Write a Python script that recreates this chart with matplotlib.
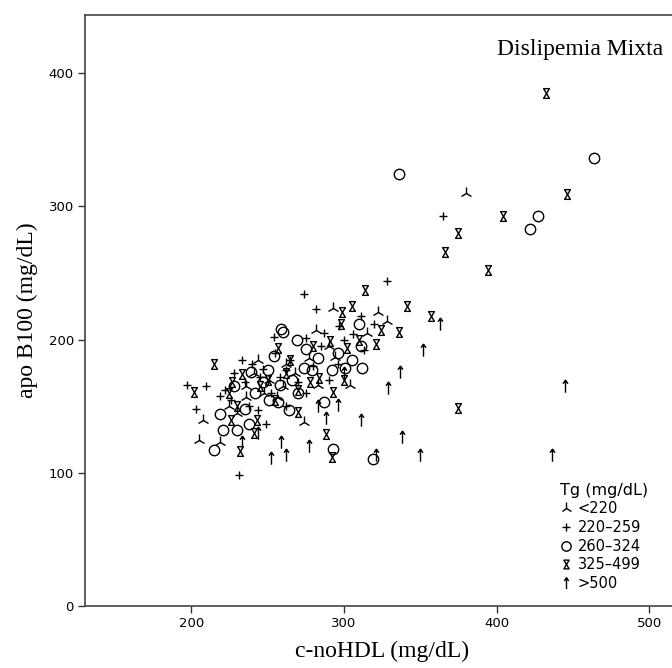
import numpy as np
import matplotlib.pyplot as plt
from matplotlib.path import Path

# c-noHDL (x) vs apo B100 (y), grouped by triglycerides (mg/dL)
tg_lt220_x = [380, 282, 322, 293, 328, 274, 205, 219, 208, 244, 236, 236, 256, 294,
              304, 262, 251, 268, 283, 225, 248, 290, 315, 230, 260, 277, 241]
tg_lt220_y = [310, 207, 221, 224, 214, 138, 125, 123, 140, 185, 165, 157, 157, 187,
              166, 182, 170, 175, 166, 150, 160, 195, 205, 145, 165, 186, 175]

tg_220_259_x = [365, 328, 274, 282, 297, 275, 254, 233, 240, 197, 210, 203, 219, 311,
                231, 249, 244, 262, 245, 255, 265, 280, 290, 235, 228, 252, 270, 300,
                313, 285, 247, 222, 258, 306, 320, 226, 238, 275, 262, 296, 287]
tg_220_259_y = [293, 244, 234, 223, 210, 201, 202, 185, 182, 166, 165, 148, 158, 218,
                98, 137, 147, 177, 172, 190, 185, 180, 170, 168, 175, 160, 168, 200,
                192, 195, 178, 162, 172, 204, 212, 155, 150, 160, 150, 182, 205]

tg_260_324_x = [336, 464, 427, 422, 259, 269, 275, 310, 311, 312, 301, 292, 279, 274,
                254, 250, 251, 264, 257, 287, 239, 238, 230, 221, 219, 215, 293, 319,
                247, 260, 283, 266, 258, 270, 242, 228, 235, 296, 305]
tg_260_324_y = [324, 336, 293, 283, 208, 200, 193, 212, 195, 179, 179, 177, 177, 179,
                188, 177, 155, 147, 153, 153, 176, 137, 132, 132, 144, 117, 118, 110,
                168, 206, 186, 170, 166, 160, 160, 165, 148, 190, 185]

tg_325_499_x = [432, 446, 404, 375, 366, 394, 314, 341, 357, 336, 324, 375, 215, 202,
                305, 299, 321, 302, 291, 257, 233, 227, 225, 226, 232, 241, 270, 293,
                288, 292, 270, 284, 250, 262, 278, 245, 265, 300, 310, 255, 230, 280,
                243, 298]
tg_325_499_y = [385, 309, 293, 280, 266, 252, 237, 225, 218, 206, 207, 149, 182, 161,
                225, 221, 197, 194, 199, 194, 174, 168, 160, 140, 116, 130, 146, 161,
                129, 112, 162, 171, 170, 175, 168, 165, 185, 170, 200, 155, 150, 195,
                140, 212]

tg_gt500_x = [363, 445, 436, 352, 337, 329, 338, 350, 296, 288, 311, 259, 277, 262,
              233, 252, 321, 244, 300, 283]
tg_gt500_y = [212, 165, 113, 192, 176, 164, 127, 113, 151, 141, 140, 123, 120, 113,
              123, 111, 113, 130, 175, 150]

group_labels = ['<220', '220–259', '260–324', '325–499', '>500']

# SPSS-like marker shapes
hourglass = Path([(-0.6, 1), (0.6, 1), (-0.6, -1), (0.6, -1), (-0.6, 1)], closed=True)
arrow_up = Path([(0, -1), (0, 1), (-0.4, 0.45), (0, 1), (0.4, 0.45)],
                [Path.MOVETO, Path.LINETO, Path.MOVETO, Path.LINETO, Path.LINETO])

groups = [
    (tg_lt220_x, tg_lt220_y, '2', 9),
    (tg_220_259_x, tg_220_259_y, '+', 6),
    (tg_260_324_x, tg_260_324_y, 'o', 7.5),
    (tg_325_499_x, tg_325_499_y, hourglass, 7),
    (tg_gt500_x, tg_gt500_y, arrow_up, 9),
]

fig = plt.figure(figsize=(6.72, 6.68), dpi=100)
ax = fig.add_axes([85/672, 62/668, 595/672, 591/668])

for (x, y, m, s), lab in zip(groups, group_labels):
    ax.plot(x, y, ls='none', marker=m, ms=s, mfc='none', mec='black',
            mew=1.0, label=lab)

ax.set_xlim(130.5, 520)
ax.set_ylim(0, 443.7)
ax.set_xticks([200, 300, 400, 500])
ax.set_yticks([0, 100, 200, 300, 400])
ax.tick_params(direction='out', length=5, width=1, color='#333333',
               labelsize=9.5, pad=3)
for sp in ax.spines.values():
    sp.set_color('#444444')
    sp.set_linewidth(1.2)

serif = 'Liberation Serif'
ax.set_xlabel('c-noHDL (mg/dL)', family=serif, fontsize=17, labelpad=8)
ax.set_ylabel('apo B100 (mg/dL)', family=serif, fontsize=17, labelpad=8)

fig.text(497/672, 1 - 50/668, 'Dislipemia Mixta', family=serif, fontsize=17,
         ha='left', va='center')

leg = ax.legend(title='Tg (mg/dL)', loc='lower left',
                bbox_to_anchor=(560/672, 77/668), bbox_transform=fig.transFigure,
                frameon=False, handlelength=0.8, handletextpad=0.4,
                labelspacing=0.25, borderpad=0, borderaxespad=0,
                alignment='left', prop={'size': 10.5}, title_fontsize=11.5,
                markerscale=0.9)

fig.savefig('out.png', dpi=100)
